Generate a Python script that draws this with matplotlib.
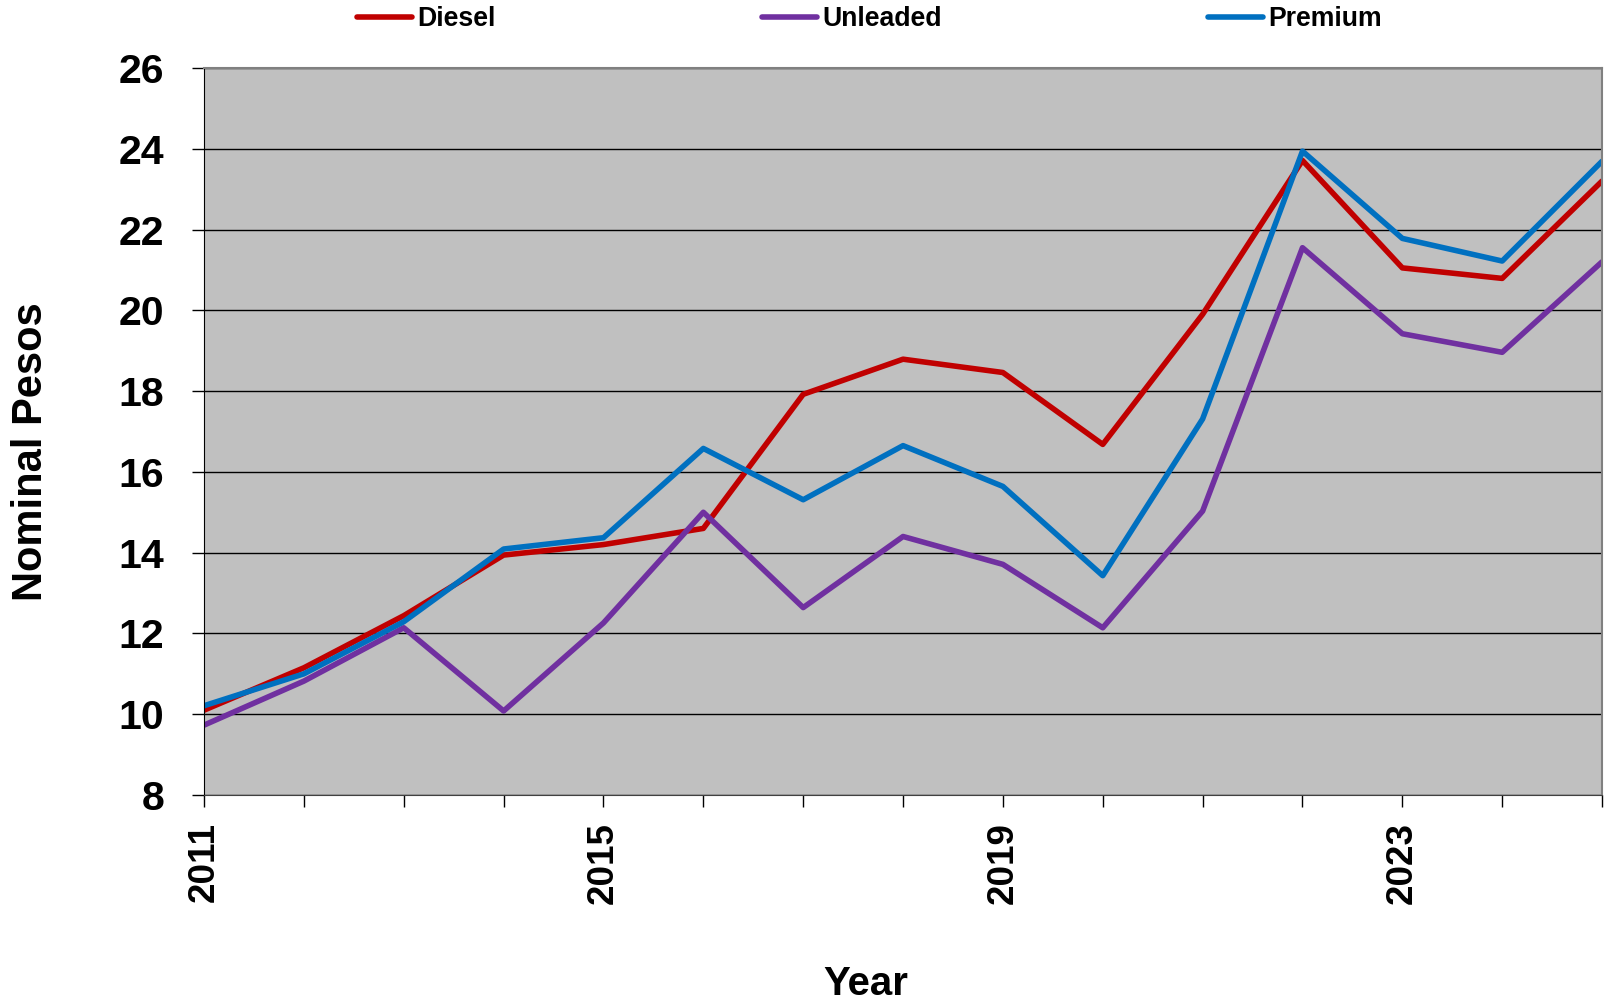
import numpy as np
import matplotlib
matplotlib.use("Agg")
import matplotlib.pyplot as plt

plt.rcParams['font.family'] = ['Liberation Sans', 'DejaVu Sans']
plt.rcParams['font.weight'] = 'bold'

years = list(range(2011, 2026))
diesel = [10.1, 11.15, 12.44, 13.94, 14.2, 14.6, 17.92, 18.79, 18.46, 16.68,
          19.9, 23.71, 21.05, 20.79, 23.2]
unleaded = [9.73, 10.82, 12.14, 10.08, 12.26, 15.0, 12.64, 14.4, 13.71, 12.14,
            15.03, 21.55, 19.42, 18.96, 21.2]
premium = [10.21, 11.0, 12.29, 14.09, 14.37, 16.58, 15.31, 16.65, 15.64, 13.43,
           17.31, 23.94, 21.78, 21.22, 23.69]
labelled_years = [2011, 2015, 2019, 2023]

fig = plt.figure(figsize=(16.08, 10.01), dpi=100)
ax = fig.add_axes([0.1269, 0.2058, 0.8694, 0.7263])
ax.set_facecolor('#C0C0C0')

ax.plot(years, diesel, color='#C00000', lw=4, label='Diesel', solid_capstyle='round')
ax.plot(years, unleaded, color='#7030A0', lw=4, label='Unleaded', solid_capstyle='round')
ax.plot(years, premium, color='#0070C0', lw=4, label='Premium', solid_capstyle='round')

ax.set_xlim(2011, 2025)
ax.set_ylim(8, 26)
ax.set_yticks(np.arange(8, 27, 2))
ax.set_xticks(years)
ax.set_xticklabels([str(y) if y in labelled_years else '' for y in years],
                   rotation=90, fontsize=26.5, fontweight='bold')
ax.tick_params(axis='y', labelsize=29.5, length=8.6, width=1, pad=20, direction='out')
ax.tick_params(axis='x', length=8.6, width=1, pad=11, direction='out')
for t in ax.get_yticklabels():
    t.set_fontweight('bold')

ax.grid(axis='y', color='black', lw=1)
ax.set_axisbelow(True)
for side in ['top', 'right']:
    ax.spines[side].set_color('#808080')
    ax.spines[side].set_linewidth(1.5)
ax.spines['left'].set_color('black')
ax.spines['bottom'].set_color('#404040')

fig.text(31 / 1608, 1 - 452 / 1001, 'Nominal Pesos', rotation=90, fontsize=30,
         fontweight='bold', ha='center', va='center')
fig.text(866 / 1608, 1 - 984 / 1001, 'Year', fontsize=29, fontweight='bold',
         ha='center', va='center')

fig.legend(loc='center left', bbox_to_anchor=(357 / 1608, 1 - 19.5 / 1001), ncol=3,
           frameon=False, handlelength=2.05, handletextpad=0.2,
           columnspacing=10.0, borderpad=0, borderaxespad=0,
           prop={'weight': 'bold', 'size': 19.2})

fig.savefig('out.png', dpi=100)
